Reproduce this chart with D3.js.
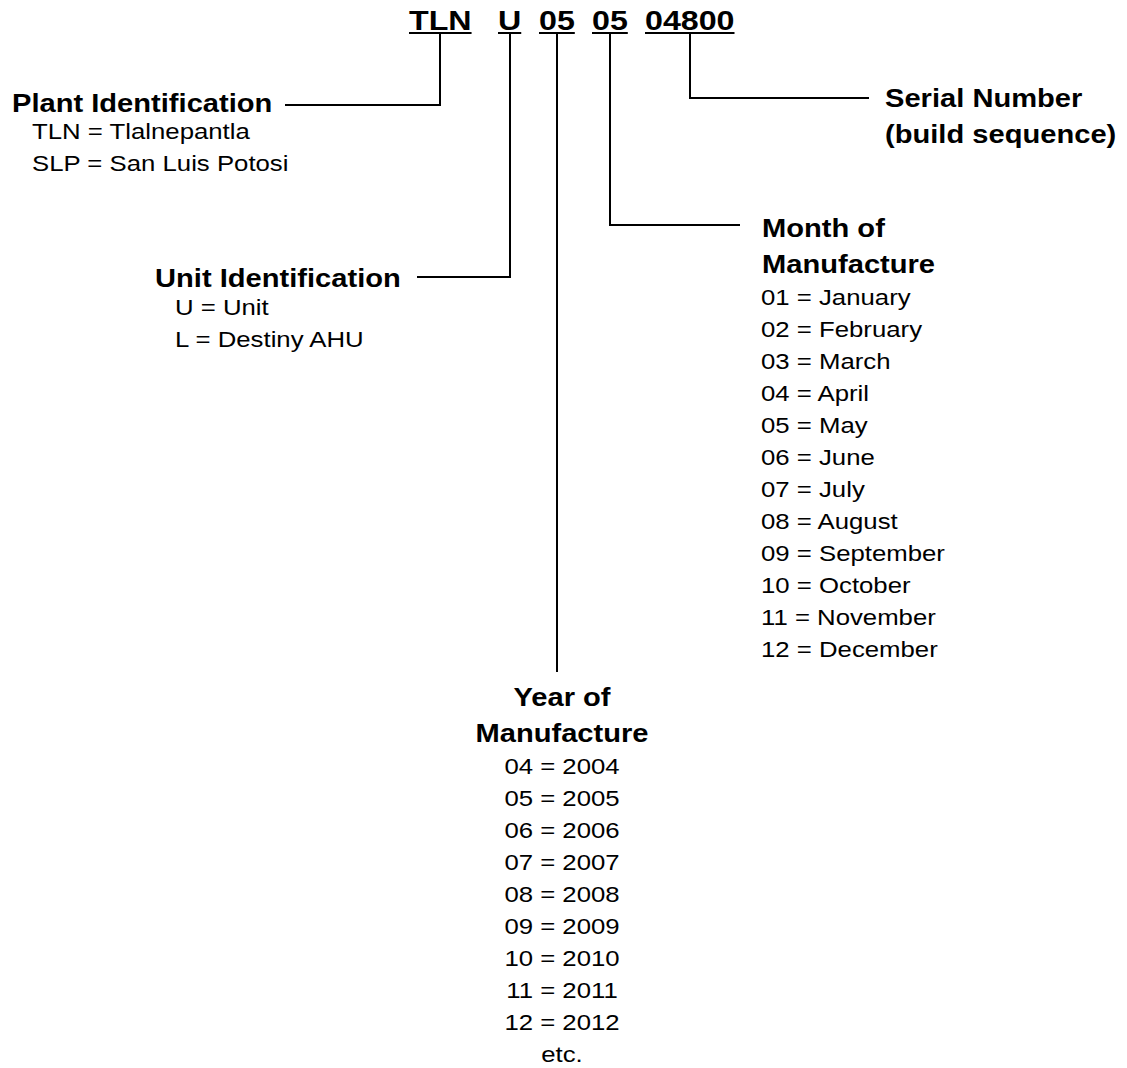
<!DOCTYPE html>
<html>
<head>
<meta charset="utf-8">
<script src="https://cdn.jsdelivr.net/npm/d3@7"></script>
<style>
  html, body { margin: 0; padding: 0; background: #fff; }
  svg { display: block; }
  text { font-family: Arial, 'Liberation Sans', sans-serif; fill: #000; }
  .code { font-weight: bold; font-size: 28px; }
  .title { font-weight: bold; font-size: 26px; }
  .item { font-size: 23px; }
  .wire { stroke: #000; stroke-width: 2; fill: none; }
</style>
</head>
<body>
<svg></svg>
<script>
const CODE_PARTS = ['TLN', 'U', '05', '05', '04800']

const PLANT_TITLE = ['Plant Identification']
const PLANT_ITEMS = ['TLN = Tlalnepantla', 'SLP = San Luis Potosi']

const UNIT_TITLE = ['Unit Identification']
const UNIT_ITEMS = ['U = Unit', 'L = Destiny AHU']

const MONTH_TITLE = ['Month of', 'Manufacture']
const MONTH_CODES = ['01', '02', '03', '04', '05', '06', '07', '08', '09', '10', '11', '12']
const MONTH_NAMES = ['January', 'February', 'March', 'April', 'May', 'June', 'July', 'August', 'September', 'October', 'November', 'December']

const YEAR_TITLE = ['Year of', 'Manufacture']
const YEAR_CODES = ['04', '05', '06', '07', '08', '09', '10', '11', '12']
const YEAR_NAMES = ['2004', '2005', '2006', '2007', '2008', '2009', '2010', '2011', '2012']
const YEAR_TAIL = ['etc.']

const SERIAL_TITLE = ['Serial Number', '(build sequence)']

// layout only, no data in here
const SVG_MEASURES = { width: 1127, height: 1068, stretch: 1.12, codeStretch: 1.15 }
const CODE_LAYOUT = { baseline: 30, underline: 33, starts: [409, 498, 539, 592, 645] }
const TITLE_STEP = 36
const ITEM_STEP = 32

let canvas

window.addEventListener('load', () => {
  canvas = d3.select('svg')
    .attr('width', SVG_MEASURES.width)
    .attr('height', SVG_MEASURES.height)

  const anchors = drawCode()

  drawBlock({ title: PLANT_TITLE, items: PLANT_ITEMS, x: 12, itemX: 32, y: 112, itemY: 139, anchor: 'start' })
  drawBlock({ title: UNIT_TITLE, items: UNIT_ITEMS, x: 155, itemX: 175, y: 287, itemY: 315, anchor: 'start' })
  drawBlock({ title: MONTH_TITLE, items: zipItems(MONTH_CODES, MONTH_NAMES), x: 762, itemX: 761, y: 237, itemY: 305, anchor: 'start' })
  drawBlock({ title: YEAR_TITLE, items: zipItems(YEAR_CODES, YEAR_NAMES).concat(YEAR_TAIL), x: 562, itemX: 562, y: 706, itemY: 774, anchor: 'middle' })
  drawBlock({ title: SERIAL_TITLE, items: [], x: 885, itemX: 885, y: 107, itemY: 0, anchor: 'start' })

  // connectors: from the underline of each code part to its explanation
  const top = CODE_LAYOUT.underline
  const wires = [
    [[anchors[0], top], [anchors[0], 105], [285, 105]],
    [[anchors[1], top], [anchors[1], 277], [417, 277]],
    [[anchors[2], top], [anchors[2], 672]],
    [[anchors[3], top], [anchors[3], 225], [740, 225]],
    [[anchors[4], top], [anchors[4], 98], [869, 98]]
  ]

  canvas.append('g').attr('id', 'wires').selectAll('path')
    .data(wires)
    .enter()
    .append('path')
    .attr('class', 'wire')
    .attr('d', d3.line())
})

function drawCode() {
  const g = canvas.append('g').attr('id', 'code')
  const centers = []

  g.selectAll('text')
    .data(CODE_PARTS)
    .enter()
    .append('text')
    .attr('class', 'code')
    .attr('transform', (d, i) => `translate(${CODE_LAYOUT.starts[i]}, ${CODE_LAYOUT.baseline}) scale(${SVG_MEASURES.codeStretch}, 1)`)
    .text(d => d)
    .each(function(d, i) {
      const w = this.getComputedTextLength() * SVG_MEASURES.codeStretch
      const x0 = CODE_LAYOUT.starts[i]
      centers.push(Math.round(x0 + w / 2))
      g.append('line')
        .attr('class', 'wire')
        .attr('x1', x0).attr('x2', x0 + w)
        .attr('y1', CODE_LAYOUT.underline).attr('y2', CODE_LAYOUT.underline)
    })

  return centers
}

function drawBlock(cfg) {
  const g = canvas.append('g')
  const titleY = d3.scaleLinear().domain([0, 1]).range([cfg.y, cfg.y + TITLE_STEP])
  const itemY = d3.scaleLinear().domain([0, 1]).range([cfg.itemY, cfg.itemY + ITEM_STEP])

  g.selectAll('text.title')
    .data(cfg.title)
    .enter()
    .append('text')
    .attr('class', 'title')
    .attr('text-anchor', cfg.anchor)
    .attr('transform', (d, i) => `translate(${cfg.x}, ${titleY(i)}) scale(${SVG_MEASURES.stretch}, 1)`)
    .text(d => d)

  g.selectAll('text.item')
    .data(cfg.items)
    .enter()
    .append('text')
    .attr('class', 'item')
    .attr('text-anchor', cfg.anchor)
    .attr('transform', (d, i) => `translate(${cfg.itemX}, ${itemY(i)}) scale(${SVG_MEASURES.stretch}, 1)`)
    .text(d => d)
}

function zipItems(codes, names) {
  return codes.map((c, i) => `${c} = ${names[i]}`)
}
</script>
</body>
</html>
